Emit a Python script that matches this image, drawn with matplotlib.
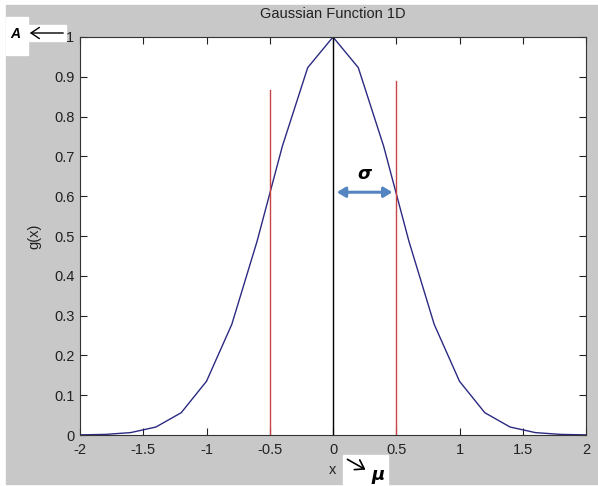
import matplotlib.pyplot as plt
from matplotlib.patches import Rectangle, FancyArrowPatch

plt.rcParams['font.family'] = ['Liberation Sans', 'DejaVu Sans']

# sampled gaussian, step 0.2
x = [-2.0, -1.8, -1.6, -1.4, -1.2, -1.0, -0.8, -0.6, -0.4, -0.2, 0.0,
     0.2, 0.4, 0.6, 0.8, 1.0, 1.2, 1.4, 1.6, 1.8, 2.0]
g = [0.0003, 0.0015, 0.006, 0.020, 0.056, 0.135, 0.278, 0.487, 0.726, 0.923, 1.0,
     0.923, 0.726, 0.487, 0.278, 0.135, 0.056, 0.020, 0.006, 0.0015, 0.0003]

# markers: sigma lines and the mean
sigma_x = [-0.5, 0.5]
sigma_top = [0.867, 0.89]
mu_x = 0.0
peak = 1.0

xticks = [-2, -1.5, -1, -0.5, 0, 0.5, 1, 1.5, 2]
xtick_labels = ['-2', '-1.5', '-1', '-0.5', '0', '0.5', '1', '1.5', '2']
yticks = [0, 0.1, 0.2, 0.3, 0.4, 0.5, 0.6, 0.7, 0.8, 0.9, 1]
ytick_labels = ['0', '0.1', '0.2', '0.3', '0.4', '0.5', '0.6', '0.7', '0.8', '0.9', '1']

W, H = 598, 486
fig = plt.figure(figsize=(W / 100, H / 100), dpi=100)
fig.patch.set_facecolor('white')


def fig_rect(x0, y0, x1, y1, color, z):
    # rectangle given in pixel coords (top-left origin)
    r = Rectangle((x0 / W, 1 - y1 / H), (x1 - x0) / W, (y1 - y0) / H,
                  transform=fig.transFigure, color=color, zorder=z)
    fig.add_artist(r)


# grey window area
fig_rect(6, 5, W, 484, '#c8c8c8', -10)

ax = fig.add_axes([80 / W, 1 - 435 / H, (586 - 80) / W, (435 - 37) / H])
ax.plot(x, g, color='#2a2a82', linewidth=1.0)
for sx, st in zip(sigma_x, sigma_top):
    ax.plot([sx, sx], [0, st], color='#c84444', linewidth=1.0)
ax.plot([mu_x, mu_x], [0, peak], color='black', linewidth=1.0)

ax.set_xlim(-2, 2)
ax.set_ylim(0, 1)
ax.set_xticks(xticks)
ax.set_xticklabels(xtick_labels)
ax.set_yticks(yticks)
ax.set_yticklabels(ytick_labels)
ax.tick_params(direction='in', top=True, right=True, length=5, width=0.8,
               labelsize=10.5, colors='#222222')
ax.tick_params(axis='x', pad=6)
ax.tick_params(axis='y', pad=4)
for s in ax.spines.values():
    s.set_linewidth(0.8)
    s.set_color('#333333')

ax.set_title('Gaussian Function 1D', fontsize=10.5, color='#222222', pad=14)
ax.set_xlabel('x', fontsize=10.5, color='#222222', labelpad=4)
ax.set_ylabel('g(x)', fontsize=10.5, color='#222222', labelpad=9)

# sigma double arrow
ax.annotate('', xy=(0.47, 0.61), xytext=(0.03, 0.61),
            arrowprops=dict(arrowstyle='<|-|>,head_length=0.5,head_width=0.3',
                            color='#5585c0', lw=2.2, shrinkA=0, shrinkB=0))
ax.text(0.25, 0.655, r'$\boldsymbol{\sigma}$', fontsize=13, ha='center', va='center')

# amplitude label box
fig_rect(6, 17, 28, 55, 'white', -5)
fig_rect(28, 25, 66, 41, 'white', -5)
fig.text(15 / W, 1 - 34 / H, 'A', fontsize=10, style='italic', fontweight='bold',
         ha='center', va='center', zorder=3)
fig.add_artist(FancyArrowPatch((66 / W, 1 - 33 / H), (27 / W, 1 - 33 / H),
                               transform=fig.transFigure,
                               arrowstyle='->,head_length=6,head_width=4',
                               color='black', lw=1.0, zorder=3))

# mean label box
fig_rect(343, 455, 388, H, 'white', -5)
fig.add_artist(FancyArrowPatch((345 / W, 1 - 458 / H), (368 / W, 1 - 471 / H),
                               transform=fig.transFigure,
                               arrowstyle='->,head_length=6,head_width=4',
                               color='black', lw=1.2, zorder=3))
fig.text(378 / W, 1 - 477 / H, r'$\boldsymbol{\mu}$', fontsize=13,
         ha='center', va='center', zorder=3)

fig.savefig('out.png', dpi=100, facecolor=fig.get_facecolor())
